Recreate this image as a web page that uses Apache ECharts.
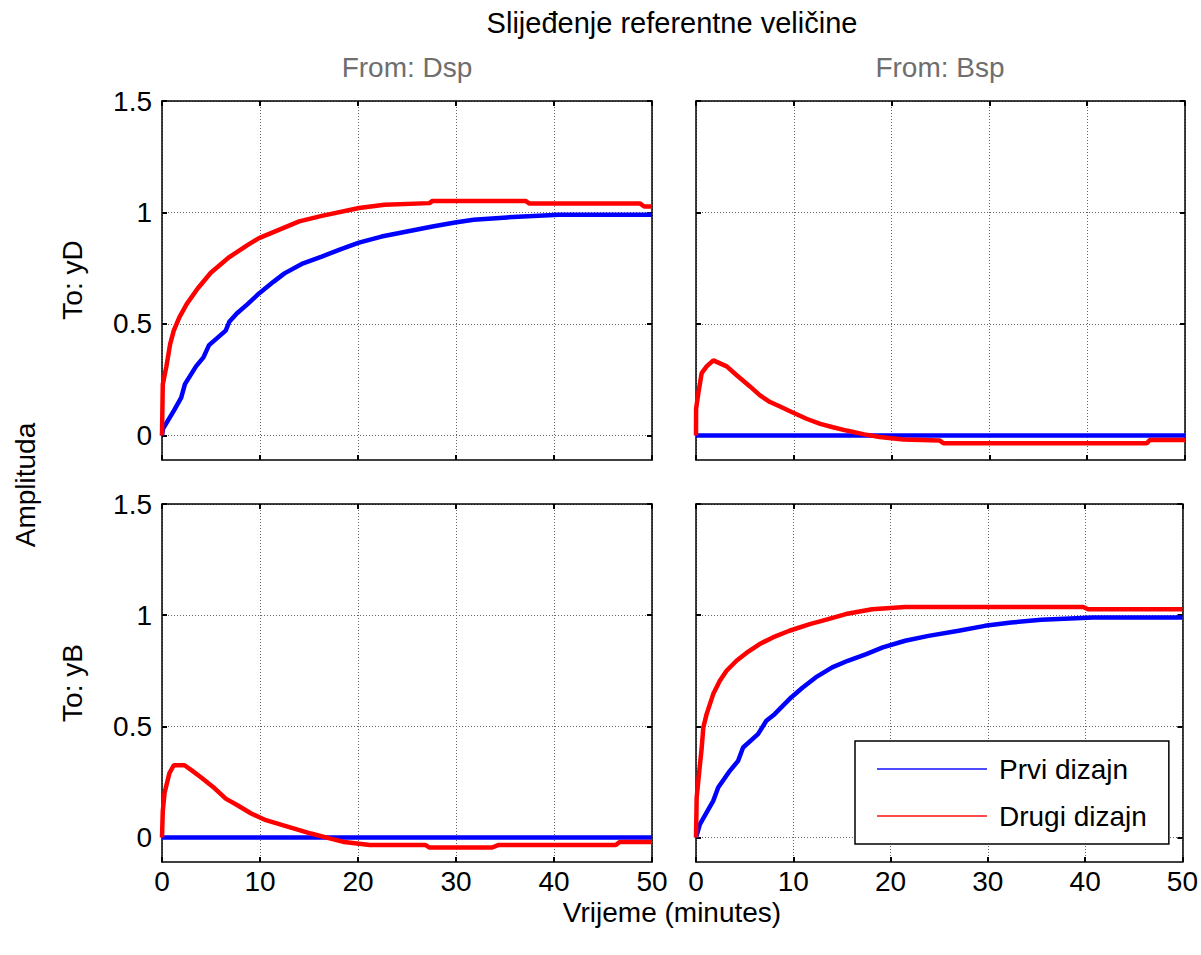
<!DOCTYPE html>
<html>
<head>
<meta charset="utf-8">
<script src="https://cdn.jsdelivr.net/npm/echarts@6/dist/echarts.min.js"></script>
<style>html,body{margin:0;padding:0;background:#fff;}#c{width:1201px;height:955px;}</style>
</head>
<body>
<div id="c"></div>
<script>
// ---- data (time in minutes, amplitude) ----
const xTicks = [0, 10, 20, 30, 40, 50];
const yTicks = [0, 0.5, 1, 1.5];
const seriesNames = ['Prvi dizajn', 'Drugi dizajn'];
const colTitles = ['From: Dsp', 'From: Bsp'];
const rowTitles = ['To: yD', 'To: yB'];

// From Dsp -> To yD
const prviDspYD = [[0,0],[0.1,0.03],[1.2,0.11],[1.96,0.17],[2.34,0.23],[3.47,0.31],[4.23,0.35],[4.8,0.405],[6.5,0.47],[6.87,0.51],[7.63,0.547],[8.76,0.59],[9.9,0.637],[11.4,0.69],[12.5,0.727],[14.4,0.772],[16.3,0.802],[18.2,0.835],[20.1,0.865],[22.4,0.892],[25.0,0.915],[27.6,0.937],[29.9,0.955],[31.8,0.967],[35.2,0.978],[40.5,0.99],[50,0.99]];
const drugiDspYD = [[0,0],[0.08,0.23],[0.45,0.31],[0.83,0.41],[1.2,0.47],[1.77,0.53],[2.53,0.59],[3.66,0.66],[4.98,0.73],[6.87,0.80],[8.76,0.855],[9.9,0.885],[11.8,0.92],[14.0,0.96],[16.3,0.985],[20.1,1.02],[22.7,1.035],[27.3,1.042],[27.6,1.052],[37.1,1.052],[37.5,1.04],[48.8,1.04],[49.2,1.027],[50,1.027]];
// From Bsp -> To yD
const prviBspYD = [[0,0],[50,0]];
const drugiBspYD = [[0,0],[0.01,0.12],[0.24,0.19],[0.58,0.28],[1.09,0.31],[1.77,0.337],[3.14,0.31],[4.16,0.27],[5.52,0.22],[6.54,0.18],[7.57,0.15],[8.59,0.13],[9.78,0.105],[11.3,0.075],[12.7,0.052],[14.0,0.037],[15.4,0.022],[17.2,0.005],[18.8,-0.007],[21.2,-0.018],[24.9,-0.022],[25.3,-0.035],[46.1,-0.035],[46.4,-0.02],[50,-0.02]];
// From Dsp -> To yB
const prviDspYB = [[0,0],[50,0]];
const drugiDspYB = [[0,0],[0.08,0.12],[0.26,0.2],[0.76,0.29],[1.2,0.325],[2.3,0.325],[3.1,0.30],[4.0,0.27],[5.4,0.22],[6.5,0.175],[7.7,0.145],[9.1,0.108],[10.6,0.078],[12.9,0.048],[15.2,0.018],[17.1,-0.004],[18.6,-0.02],[21.2,-0.034],[26.9,-0.034],[27.3,-0.045],[33.7,-0.045],[34.3,-0.034],[46.3,-0.034],[46.7,-0.02],[50,-0.02]];
// From Bsp -> To yB
const prviBspYB = [[0,0],[0.41,0.06],[1.77,0.165],[2.28,0.225],[3.48,0.3],[4.33,0.345],[4.84,0.405],[6.37,0.465],[7.23,0.525],[8.08,0.555],[9.78,0.63],[10.97,0.675],[12.3,0.72],[14.0,0.765],[15.6,0.795],[17.5,0.825],[19.2,0.855],[21.5,0.885],[23.9,0.907],[27.0,0.93],[29.7,0.952],[32.4,0.967],[35.5,0.979],[40.8,0.99],[50,0.99]];
const drugiBspYB = [[0,0],[0.07,0.18],[0.34,0.3],[0.58,0.4],[0.75,0.495],[1.09,0.555],[1.77,0.645],[2.45,0.705],[3.14,0.75],[4.16,0.795],[5.18,0.83],[6.54,0.87],[7.9,0.9],[9.6,0.93],[11.7,0.96],[13.4,0.98],[15.4,1.005],[18.1,1.027],[21.5,1.037],[39.8,1.037],[40.3,1.027],[50,1.027]];

const panelData = [
  [prviDspYD, drugiDspYD],
  [prviBspYD, drugiBspYD],
  [prviDspYB, drugiDspYB],
  [prviBspYB, drugiBspYB]
];

// ---- layout ----
const FONT = '"Liberation Sans", Arial, Helvetica, sans-serif';
const grids = [
  {left: 162, top: 101, width: 490, height: 359},
  {left: 696, top: 101, width: 489, height: 359},
  {left: 162, top: 504, width: 490, height: 358},
  {left: 696, top: 504, width: 489, height: 358}
];
const X_MIN = 0, X_MAX = 50, Y_MIN = -0.11, Y_MAX = 1.5;
const lineColors = ['#0000ff', '#ff0000'];

const xAxes = [], yAxes = [], series = [];
grids.forEach((g, i) => {
  const bottomRow = i >= 2, leftCol = (i % 2) === 0;
  const tick = {show: true, inside: true, length: 5, lineStyle: {color: '#000', width: 2}};
  const axLine = {show: true, onZero: false, lineStyle: {color: '#000', width: 1.5}};
  const grid = {type: [1, 2], color: '#666', width: 1};
  xAxes.push({
    type: 'value', gridIndex: i, position: 'bottom', min: X_MIN, max: X_MAX, interval: 10,
    axisLine: axLine, axisTick: tick,
    axisLabel: {show: bottomRow, color: '#000', fontSize: 28, fontFamily: FONT, margin: 5},
    splitLine: {show: true, lineStyle: grid}
  });
  xAxes.push({
    type: 'value', gridIndex: i, position: 'top', min: X_MIN, max: X_MAX, interval: 10,
    axisLine: axLine, axisTick: tick, axisLabel: {show: false}, splitLine: {show: false}
  });
  yAxes.push({
    type: 'value', gridIndex: i, position: 'left', min: Y_MIN, max: Y_MAX,
    axisLine: axLine,
    axisTick: Object.assign({customValues: yTicks}, tick),
    axisLabel: {show: leftCol, customValues: yTicks, color: '#000', fontSize: 28, fontFamily: FONT, margin: 10},
    splitLine: {show: true, lineStyle: grid}
  });
  yAxes.push({
    type: 'value', gridIndex: i, position: 'right', min: Y_MIN, max: Y_MAX,
    axisLine: axLine,
    axisTick: Object.assign({customValues: yTicks}, tick),
    axisLabel: {show: false}, splitLine: {show: false}
  });
  panelData[i].forEach((d, k) => {
    series.push({
      type: 'line', name: seriesNames[k], xAxisIndex: 2 * i, yAxisIndex: 2 * i,
      data: d, showSymbol: false, symbol: 'none', clip: true,
      lineStyle: {color: lineColors[k], width: 4.5}, itemStyle: {color: lineColors[k]},
      z: 2 + k
    });
  });
});

const txt = (text, x, y, size, opts) => Object.assign({
  type: 'text', x: x, y: y, silent: true,
  style: Object.assign({text: text, font: size + 'px ' + FONT, fill: '#000', textAlign: 'center', textVerticalAlign: 'middle'}, (opts && opts.style) || {})
}, (opts && opts.el) || {});

const option = {
  animation: false,
  backgroundColor: '#fff',
  grid: grids.map(g => Object.assign({containLabel: false}, g)),
  xAxis: xAxes,
  yAxis: yAxes,
  series: series,
  legend: {
    orient: 'vertical', left: 855, top: 741,
    backgroundColor: '#fff', borderColor: '#000', borderWidth: 1.5,
    padding: [14, 22, 14, 22], itemGap: 19,
    itemWidth: 110, itemHeight: 2, icon: 'rect',
    textStyle: {fontSize: 28, fontFamily: FONT, color: '#000', padding: [0, 0, 0, 7]},
    data: [
      {name: seriesNames[0], itemStyle: {color: '#4d4dff'}},
      {name: seriesNames[1], itemStyle: {color: '#ff4d4d'}}
    ],
    selectedMode: false
  },
  graphic: [
    txt('Slijeđenje referentne veličine', 672, 23, 29),
    txt(colTitles[0], 407, 67, 28, {style: {fill: '#6e6e6e'}}),
    txt(colTitles[1], 940, 67, 28, {style: {fill: '#6e6e6e'}}),
    txt(rowTitles[0], 72, 280, 28, {el: {rotation: Math.PI / 2}}),
    txt(rowTitles[1], 72, 683, 28, {el: {rotation: Math.PI / 2}}),
    txt('Amplituda', 25, 485, 28, {el: {rotation: Math.PI / 2}}),
    txt('Vrijeme (minutes)', 672, 912, 28)
  ]
};

const chart = echarts.init(document.getElementById('c'), null, {renderer: 'svg'});
chart.setOption(option);
</script>
</body>
</html>
